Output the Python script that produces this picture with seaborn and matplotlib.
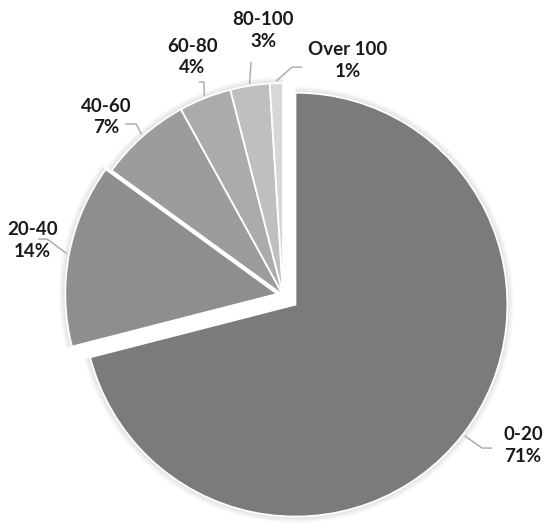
import numpy as np
import matplotlib
matplotlib.use("Agg")
import matplotlib.pyplot as plt
from matplotlib.patches import Wedge
import seaborn as sns

# data
categories = ["0-20", "20-40", "40-60", "60-80", "80-100", "Over 100"]
shares = [71, 14, 7, 4, 3, 1]
colors = ["#7b7b7b", "#8e8e8e", "#9c9c9c", "#ababab", "#bfbfbf", "#d7d7d7"]
explode = [0.074, 0.028, 0, 0, 0, 0]

# label block centres and leader-line elbows (axes data units, radius = 1)
label_pos = [(1.132, -0.712), (-1.184, 0.259), (-0.835, 0.840),
             (-0.429, 1.123), (-0.094, 1.250), (0.307, 1.108)]
leader_elbow = [(0.939, -0.722), (-1.113, 0.264), (-0.693, 0.807),
                (-0.373, 1.005), (-0.151, 1.099), (0.042, 1.075)]
leader_end = [(0.986, -0.722), (-1.156, 0.264), (-0.745, 0.807),
              (-0.396, 1.005), (-0.151, 1.099), (0.090, 1.075)]

sns.set_theme(style="white")
plt.rcParams["font.family"] = ["Lato", "DejaVu Sans"]

fig = plt.figure(figsize=(5.5, 5.29), dpi=100)
ax = fig.add_axes([0, 0, 1, 1])

wedges, _ = ax.pie(shares, colors=colors, explode=explode, startangle=90,
                   counterclock=False, radius=1,
                   wedgeprops=dict(edgecolor="white", linewidth=1.3, zorder=3))

# soft shadow round the outer rim
for w in wedges:
    for k in range(1, 7):
        ax.add_patch(Wedge(w.center, w.r * (1 + 0.005 * k), w.theta1, w.theta2,
                           width=w.r * 0.03, facecolor="black", alpha=0.018,
                           edgecolor="none", zorder=1))

for w, cat, pct, lp, el, en in zip(wedges, categories, shares,
                                   label_pos, leader_elbow, leader_end):
    mid = np.deg2rad((w.theta1 + w.theta2) / 2)
    cx, cy = w.center
    start = (cx + 1.01 * w.r * np.cos(mid), cy + 1.01 * w.r * np.sin(mid))
    ax.plot([start[0], el[0], en[0]], [start[1], el[1], en[1]],
            color="#a6a6a6", lw=1.0, solid_capstyle="butt", zorder=4)
    ax.text(lp[0], lp[1], f"{cat}\n{pct}%", ha="center", va="center",
            fontsize=13.5, fontweight="bold", color="#1a1a1a", linespacing=1.35)

ax.set_xlim(-1.335, 1.259)
ax.set_ylim(-1.104, 1.392)
ax.set_aspect("equal")
ax.axis("off")

fig.savefig("out.png", dpi=100)
